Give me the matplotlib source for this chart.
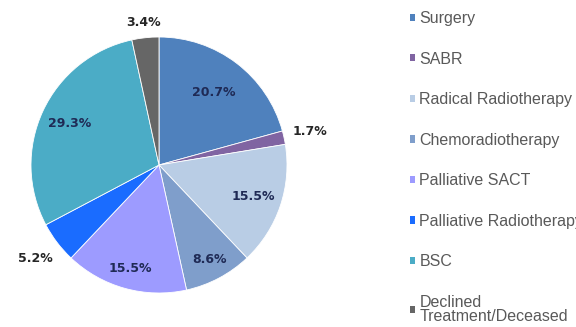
import matplotlib.pyplot as plt
from matplotlib.patches import Patch
import numpy as np

treatments = ["Surgery", "SABR", "Radical Radiotherapy", "Chemoradiotherapy",
              "Palliative SACT", "Palliative Radiotherapy", "BSC",
              "Declined\nTreatment/Deceased"]
shares = [20.7, 1.7, 15.5, 8.6, 15.5, 5.2, 29.3, 3.4]
colors = ["#4f81bd", "#8064a2", "#b9cde5", "#7f9ecb",
          "#9d9bff", "#1a6cff", "#4bacc6", "#666666"]

# radial position of each percentage label (>1 means outside the pie)
label_r = [0.71, 1.21, 0.78, 0.84, 0.84, 1.21, 0.77, 1.12]

plt.rcParams["font.family"] = ["Liberation Sans", "DejaVu Sans"]

fig = plt.figure(figsize=(5.76, 3.27), dpi=100)
cx, cy, R, half = 159, 165, 128, 142
ax = fig.add_axes([(cx - half) / 576, (327 - cy - half) / 327, 2 * half / 576, 2 * half / 327])

wedges, _ = ax.pie(shares, colors=colors, startangle=90, counterclock=False,
                   radius=1.0, wedgeprops=dict(edgecolor="white", linewidth=0.6))
# pie() resets the limits, so fix them afterwards
lim = half / R
ax.set_xlim(-lim, lim)
ax.set_ylim(-lim, lim)
ax.set_aspect("equal")
ax.axis("off")

for w, val, r in zip(wedges, shares, label_r):
    mid = np.deg2rad((w.theta1 + w.theta2) / 2)
    col = "#262626" if r > 1 else "#1f2a55"
    ax.text(r * np.cos(mid), r * np.sin(mid), f"{val}%", ha="center", va="center",
            fontsize=9, fontweight="bold", color=col, family=["DejaVu Sans"])

handles = [Patch(facecolor=c, edgecolor="none") for c in colors]
leg = fig.legend(handles, treatments, loc="upper left", bbox_to_anchor=(410 / 576, 1 - 11 / 327),
                 frameon=False, fontsize=11.5, handlelength=0.33, handleheight=0.33,
                 handletextpad=0.25, labelspacing=1.6, borderaxespad=0, borderpad=0)
for t in leg.get_texts():
    t.set_color("#595959")
leg.get_texts()[-1].set_linespacing(0.9)

fig.savefig("out.png", dpi=100)
